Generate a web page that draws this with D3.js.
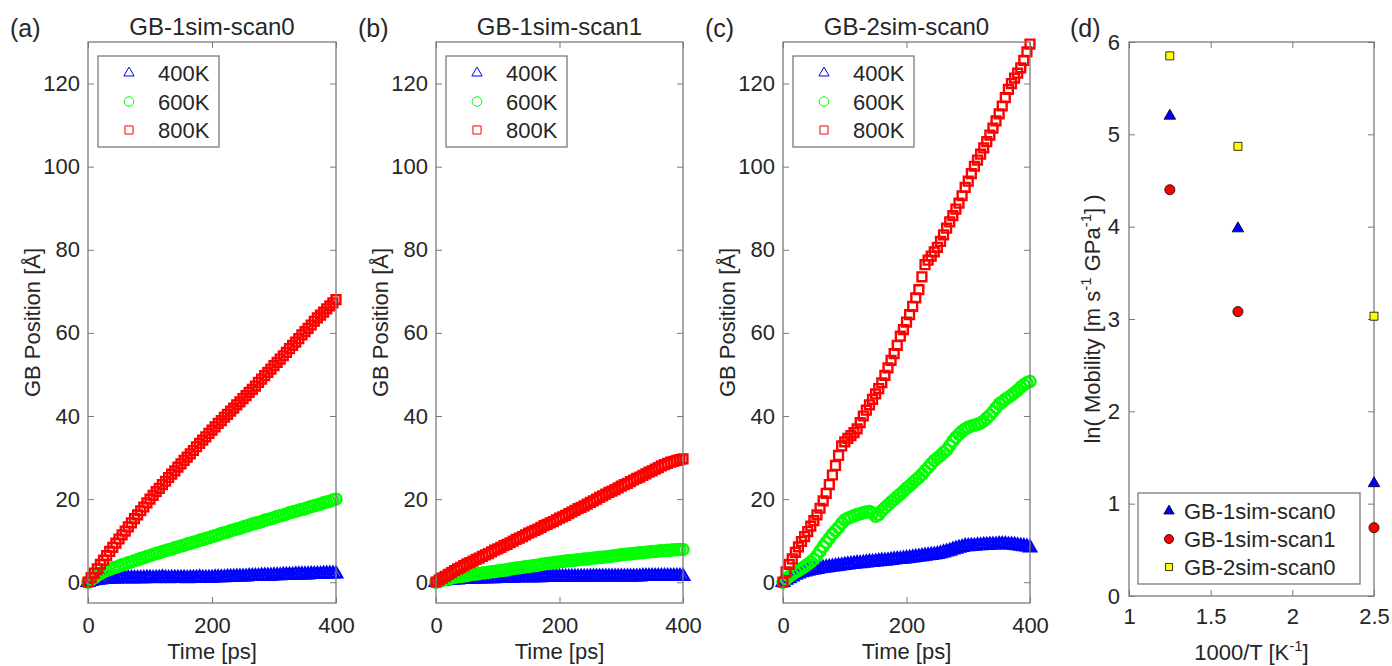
<!DOCTYPE html>
<meta charset="utf-8">
<script src="https://d3js.org/d3.v7.min.js"></script>
<style>
  body { margin: 0; background: #fff; }
  text { font-family: "Liberation Sans", Arial, Helvetica, sans-serif; fill: #262626; }
</style>
<body>
<div id="chart"></div>
<script>

// sample times [ps]
const time = [
  0, 5, 10, 15, 20, 25, 30, 35, 40, 45,
  50, 55, 60, 65, 70, 75, 80, 85, 90, 95,
  100, 105, 110, 115, 120, 125, 130, 135, 140, 145,
  150, 155, 160, 165, 170, 175, 180, 185, 190, 195,
  200, 205, 210, 215, 220, 225, 230, 235, 240, 245,
  250, 255, 260, 265, 270, 275, 280, 285, 290, 295,
  300, 305, 310, 315, 320, 325, 330, 335, 340, 345,
  350, 355, 360, 365, 370, 375, 380, 385, 390, 395,
  400];

// (a) GB-1sim-scan0, GB position [A]
const a400 = [
  0, 0.2, 0.4, 0.5, 0.6, 0.7, 0.7, 0.8, 0.8, 0.8,
  0.9, 0.9, 0.9, 0.9, 0.9, 0.9, 0.9, 0.9, 0.9, 1.0,
  1.0, 0.9, 1.0, 1.0, 1.1, 1.0, 0.9, 1.0, 1.0, 1.0,
  1.0, 1.0, 0.9, 1.0, 1.0, 1.0, 1.1, 1.0, 1.0, 1.0,
  1.0, 1.1, 1.1, 1.1, 1.1, 1.2, 1.2, 1.2, 1.3, 1.3,
  1.3, 1.3, 1.4, 1.4, 1.4, 1.4, 1.5, 1.5, 1.5, 1.5,
  1.6, 1.6, 1.6, 1.7, 1.7, 1.7, 1.7, 1.8, 1.8, 1.8,
  1.8, 1.8, 1.9, 1.9, 1.9, 1.9, 2.0, 2.0, 2.0, 2.0,
  2.0];
const a600 = [
  0, 0.6, 1.1, 1.6, 2.1, 2.5, 2.8, 3.1, 3.4, 3.6,
  3.9, 4.2, 4.4, 4.7, 4.9, 5.2, 5.4, 5.7, 5.9, 6.2,
  6.4, 6.7, 6.9, 7.1, 7.4, 7.6, 7.8, 8.0, 8.3, 8.5,
  8.7, 8.9, 9.2, 9.4, 9.6, 9.8, 10.1, 10.3, 10.5, 10.7,
  11.0, 11.2, 11.4, 11.7, 11.9, 12.1, 12.4, 12.6, 12.8, 13.0,
  13.3, 13.5, 13.7, 14.0, 14.2, 14.4, 14.6, 14.9, 15.1, 15.3,
  15.5, 15.8, 16.0, 16.2, 16.4, 16.7, 16.9, 17.1, 17.3, 17.5,
  17.7, 18.0, 18.2, 18.4, 18.6, 18.8, 19.1, 19.3, 19.5, 19.8,
  20.0];
const a800 = [
  0, 1.1, 2.2, 3.2, 4.3, 5.3, 6.4, 7.4, 8.4, 9.4,
  10.4, 11.4, 12.3, 13.3, 14.3, 15.3, 16.2, 17.2, 18.1, 19.1,
  20.0, 20.9, 21.8, 22.6, 23.5, 24.3, 25.2, 26.0, 26.8, 27.7,
  28.5, 29.3, 30.1, 30.9, 31.7, 32.6, 33.4, 34.2, 35.0, 35.8,
  36.6, 37.4, 38.2, 38.9, 39.7, 40.4, 41.2, 41.9, 42.7, 43.4,
  44.2, 44.9, 45.7, 46.4, 47.2, 48.1, 48.9, 49.7, 50.5, 51.3,
  52.1, 52.9, 53.7, 54.5, 55.3, 56.2, 57.0, 57.8, 58.6, 59.5,
  60.3, 61.1, 61.9, 62.8, 63.6, 64.3, 65.0, 65.8, 66.5, 67.2,
  68.0];

// (b) GB-1sim-scan1
const b400 = [
  0, 0.2, 0.3, 0.4, 0.5, 0.5, 0.6, 0.6, 0.7, 0.7,
  0.7, 0.8, 0.8, 0.8, 0.8, 0.9, 0.9, 0.9, 0.9, 0.9,
  1.0, 1.0, 1.0, 1.0, 1.0, 1.0, 1.1, 1.1, 1.1, 1.1,
  1.1, 1.1, 1.1, 1.1, 1.1, 1.2, 1.2, 1.2, 1.2, 1.2,
  1.2, 1.2, 1.2, 1.2, 1.2, 1.2, 1.2, 1.2, 1.2, 1.2,
  1.3, 1.3, 1.3, 1.3, 1.3, 1.3, 1.3, 1.3, 1.3, 1.3,
  1.3, 1.3, 1.3, 1.3, 1.3, 1.3, 1.3, 1.4, 1.4, 1.4,
  1.4, 1.4, 1.4, 1.4, 1.4, 1.4, 1.4, 1.4, 1.4, 1.4,
  1.4];
const b600 = [
  0, 0.3, 0.5, 0.7, 0.9, 1.0, 1.2, 1.3, 1.4, 1.5,
  1.6, 1.8, 1.9, 2.0, 2.1, 2.2, 2.3, 2.4, 2.5, 2.6,
  2.7, 2.8, 2.9, 3.0, 3.2, 3.3, 3.4, 3.5, 3.6, 3.7,
  3.8, 3.9, 4.0, 4.1, 4.3, 4.4, 4.5, 4.6, 4.7, 4.8,
  4.9, 5.0, 5.1, 5.2, 5.2, 5.3, 5.4, 5.5, 5.6, 5.6,
  5.7, 5.8, 5.9, 6.0, 6.0, 6.1, 6.2, 6.3, 6.4, 6.5,
  6.6, 6.7, 6.8, 6.8, 6.9, 7.0, 7.1, 7.1, 7.2, 7.3,
  7.4, 7.4, 7.5, 7.6, 7.6, 7.7, 7.7, 7.8, 7.8, 7.9,
  7.9];
const b800 = [
  0, 0.5, 1.0, 1.4, 1.9, 2.3, 2.8, 3.2, 3.6, 4.0,
  4.4, 4.7, 5.1, 5.5, 5.8, 6.2, 6.6, 6.9, 7.3, 7.7,
  8.0, 8.4, 8.8, 9.1, 9.5, 9.9, 10.3, 10.6, 11.0, 11.4,
  11.8, 12.1, 12.5, 12.8, 13.2, 13.6, 13.9, 14.3, 14.6, 15.0,
  15.4, 15.7, 16.1, 16.5, 16.9, 17.3, 17.7, 18.0, 18.4, 18.8,
  19.2, 19.6, 20.0, 20.4, 20.8, 21.2, 21.6, 21.9, 22.3, 22.7,
  23.1, 23.5, 23.8, 24.2, 24.6, 25.0, 25.3, 25.7, 26.1, 26.5,
  26.8, 27.2, 27.6, 28.0, 28.3, 28.6, 28.9, 29.1, 29.3, 29.5,
  29.7];

// (c) GB-2sim-scan0
const c400 = [
  0, 0.5, 0.9, 1.3, 1.7, 2.0, 2.3, 2.5, 2.7, 2.9,
  3.0, 3.1, 3.3, 3.4, 3.5, 3.6, 3.7, 3.8, 3.9, 4.0,
  4.1, 4.2, 4.3, 4.4, 4.5, 4.5, 4.6, 4.7, 4.8, 4.8,
  4.9, 5.0, 5.1, 5.1, 5.2, 5.3, 5.4, 5.5, 5.5, 5.6,
  5.7, 5.8, 5.9, 6.0, 6.1, 6.2, 6.3, 6.4, 6.5, 6.6,
  6.7, 6.9, 7.1, 7.3, 7.5, 7.8, 8.0, 8.2, 8.4, 8.6,
  8.6, 8.7, 8.7, 8.8, 8.8, 8.9, 8.9, 9.0, 9.0, 9.0,
  9.1, 9.1, 9.1, 9.0, 9.0, 8.9, 8.8, 8.7, 8.6, 8.5,
  8.3];
const c600 = [
  0, 0.8, 1.4, 1.9, 2.4, 2.8, 3.3, 3.8, 4.3, 4.9,
  5.5, 6.4, 7.5, 8.6, 9.6, 10.6, 11.6, 12.4, 13.2, 14.2,
  15.0, 15.4, 15.7, 16.0, 16.3, 16.5, 16.7, 16.9, 17.0, 16.6,
  15.9, 16.3, 17.2, 17.9, 18.6, 19.3, 19.9, 20.6, 21.2, 21.9,
  22.6, 23.2, 23.9, 24.6, 25.2, 26.0, 26.8, 27.6, 28.5, 29.3,
  29.9, 30.5, 31.2, 31.8, 32.9, 34.0, 34.9, 35.6, 36.3, 36.9,
  37.3, 37.6, 37.8, 38.0, 38.3, 38.8, 39.5, 40.2, 41.0, 42.0,
  42.9, 43.4, 44.0, 44.5, 45.0, 45.6, 46.2, 46.9, 47.5, 48.0,
  48.3];
const c800 = [
  0, 2.5, 4.3, 5.6, 7.2, 8.5, 9.8, 11.0, 12.2, 13.5,
  14.8, 16.2, 17.8, 19.6, 21.4, 23.5, 25.8, 28.1, 30.5, 32.8,
  33.8, 34.6, 35.3, 36.0, 36.9, 38.4, 40.0, 41.4, 42.7, 44.0,
  45.3, 46.6, 48.0, 49.8, 51.6, 53.4, 55.0, 57.0, 59.2, 60.8,
  62.6, 64.4, 66.4, 68.4, 70.4, 73.5, 76.4, 77.5, 78.5, 79.5,
  80.6, 82.0, 83.6, 85.2, 86.7, 88.2, 89.8, 91.2, 93.0, 95.0,
  96.5, 98.3, 100.1, 101.6, 103.0, 104.5, 106.0, 107.6, 109.3, 111.0,
  112.7, 114.6, 116.6, 118.6, 120.0, 121.3, 122.5, 123.8, 125.6, 127.6,
  129.5];

// (d) Arrhenius data: 1000/T and ln(mobility)
const invT = [1.25, 1.667, 2.5];
const scan0_1sim = [5.2, 3.98, 1.22];
const scan1_1sim = [4.4, 3.08, 0.74];
const scan0_2sim = [5.85, 4.87, 3.03];

const tempLabels = ["400K", "600K", "800K"];
const yTicks = [0, 20, 40, 60, 80, 100, 120];
const xTicks = [0, 200, 400];

const W = 1392, H = 666;
const plotTop = 42, plotBottom = 603;
const boxColor = "#7a7a7a";
const textColor = "#262626";

const svg = d3.select("#chart")
  .append("svg")
  .attr("width", W)
  .attr("height", H);

// marker style per temperature
const tempStyle = [
  {type: d3.symbolTriangle, size: 46, dataSize: 64, color: "#0000ff"},
  {type: d3.symbolCircle, size: 72, dataSize: 96, color: "#00ff00"},
  {type: d3.symbolSquare, size: 66, dataSize: 78, color: "#ff0000"}
];

const panels = [
  {tag: "(a)", title: "GB-1sim-scan0", left: 88, right: 336, series: [a400, a600, a800]},
  {tag: "(b)", title: "GB-1sim-scan1", left: 436, right: 683, series: [b400, b600, b800]},
  {tag: "(c)", title: "GB-2sim-scan0", left: 783, right: 1030, series: [c400, c600, c800]}
];

const y = d3.scaleLinear().domain([-5, 130]).range([plotBottom, plotTop]);

function styleAxis(sel) {
  sel.select(".domain").remove();
  sel.selectAll(".tick line").attr("stroke", boxColor);
  sel.selectAll(".tick text").style("font-size", "22px").attr("fill", textColor);
}

panels.forEach(function(p) {
  const x = d3.scaleLinear().domain([0, 400]).range([p.left, p.right]);
  const g = svg.append("g");

  // axes with inward ticks on all four sides
  g.append("g")
    .attr("transform", `translate(0,${plotBottom})`)
    .call(d3.axisBottom(x).tickValues(xTicks).tickSize(-6).tickPadding(14))
    .call(styleAxis);
  g.append("g")
    .attr("transform", `translate(0,${plotTop})`)
    .call(d3.axisTop(x).tickValues(xTicks).tickSize(-6).tickFormat(""))
    .call(styleAxis);
  g.append("g")
    .attr("transform", `translate(${p.left},0)`)
    .call(d3.axisLeft(y).tickValues(yTicks).tickSize(-6).tickPadding(8))
    .call(styleAxis);
  g.append("g")
    .attr("transform", `translate(${p.right},0)`)
    .call(d3.axisRight(y).tickValues(yTicks).tickSize(-6).tickFormat(""))
    .call(styleAxis);

  // data markers
  p.series.forEach(function(vals, i) {
    const st = tempStyle[i];
    const sym = d3.symbol().type(st.type).size(st.dataSize);
    g.append("g").selectAll("path")
      .data(vals)
      .join("path")
        .attr("d", sym)
        .attr("transform", (d, j) => `translate(${x(time[j])},${y(d)})`)
        .attr("fill", "none")
        .attr("stroke", st.color)
        .attr("stroke-width", 2.4);
  });

  g.append("rect")
    .attr("x", p.left).attr("y", plotTop)
    .attr("width", p.right - p.left).attr("height", plotBottom - plotTop)
    .attr("fill", "none").attr("stroke", boxColor).attr("stroke-width", 1.3);

  // legend
  const lg = g.append("g").attr("transform", `translate(${p.left + 10},56)`);
  lg.append("rect")
    .attr("width", 121).attr("height", 91)
    .attr("fill", "#fff").attr("stroke", boxColor).attr("stroke-width", 1.3);
  tempLabels.forEach(function(lab, i) {
    const st = tempStyle[i];
    const cy = 17 + i * 28.5;
    lg.append("path")
      .attr("d", d3.symbol().type(st.type).size(st.size)())
      .attr("transform", `translate(31,${cy})`)
      .attr("fill", "none").attr("stroke", st.color).attr("stroke-width", 1);
    lg.append("text")
      .attr("x", 60).attr("y", cy + 8)
      .style("font-size", "22px")
      .text(lab);
  });

  // titles and labels
  g.append("text")
    .attr("x", (p.left + p.right) / 2).attr("y", 35)
    .attr("text-anchor", "middle")
    .style("font-size", "24px")
    .text(p.title);
  g.append("text")
    .attr("x", p.left - 78).attr("y", 37)
    .style("font-size", "25px")
    .text(p.tag);
  g.append("text")
    .attr("x", (p.left + p.right) / 2).attr("y", 659)
    .attr("text-anchor", "middle")
    .style("font-size", "22px")
    .text("Time [ps]");
  g.append("text")
    .attr("transform", `translate(${p.left - 48},${(plotTop + plotBottom) / 2}) rotate(-90)`)
    .attr("text-anchor", "middle")
    .style("font-size", "22px")
    .text("GB Position [Å]");
});

// ---- panel (d)
const dLeft = 1129, dRight = 1374, dBottom = 596;
const xd = d3.scaleLinear().domain([1, 2.5]).range([dLeft, dRight]);
const yd = d3.scaleLinear().domain([0, 6]).range([dBottom, plotTop]);
const gd = svg.append("g");

gd.append("g")
  .attr("transform", `translate(0,${dBottom})`)
  .call(d3.axisBottom(xd).tickValues([1, 1.5, 2, 2.5]).tickSize(-6).tickPadding(12).tickFormat(d => String(d)))
  .call(styleAxis);
gd.append("g")
  .attr("transform", `translate(0,${plotTop})`)
  .call(d3.axisTop(xd).tickValues([1, 1.5, 2, 2.5]).tickSize(-6).tickFormat(""))
  .call(styleAxis);
gd.append("g")
  .attr("transform", `translate(${dLeft},0)`)
  .call(d3.axisLeft(yd).ticks(6).tickSize(-6).tickPadding(9))
  .call(styleAxis);
gd.append("g")
  .attr("transform", `translate(${dRight},0)`)
  .call(d3.axisRight(yd).ticks(6).tickSize(-6).tickFormat(""))
  .call(styleAxis);
gd.append("rect")
  .attr("x", dLeft).attr("y", plotTop)
  .attr("width", dRight - dLeft).attr("height", dBottom - plotTop)
  .attr("fill", "none").attr("stroke", boxColor).attr("stroke-width", 1.3);

const dSeries = [
  {name: "GB-1sim-scan0", vals: scan0_1sim, type: d3.symbolTriangle, size: 58, color: "#0000ff"},
  {name: "GB-1sim-scan1", vals: scan1_1sim, type: d3.symbolCircle, size: 80, color: "#ff0000"},
  {name: "GB-2sim-scan0", vals: scan0_2sim, type: d3.symbolSquare, size: 64, color: "#ffff00"}
];

dSeries.forEach(function(s) {
  gd.append("g").selectAll("path")
    .data(s.vals)
    .join("path")
      .attr("d", d3.symbol().type(s.type).size(s.size))
      .attr("transform", (d, i) => `translate(${xd(invT[i])},${yd(d)})`)
      .attr("fill", s.color)
      .attr("stroke", "#000")
      .attr("stroke-width", 0.8);
});

// legend (d)
const lgd = gd.append("g").attr("transform", "translate(1138,493)");
lgd.append("rect")
  .attr("width", 222).attr("height", 91)
  .attr("fill", "#fff").attr("stroke", boxColor).attr("stroke-width", 1.3);
dSeries.forEach(function(s, i) {
  const cy = 18 + i * 28;
  lgd.append("path")
    .attr("d", d3.symbol().type(s.type).size(s.size * 0.8)())
    .attr("transform", `translate(31,${cy})`)
    .attr("fill", s.color).attr("stroke", "#000").attr("stroke-width", 0.8);
  lgd.append("text")
    .attr("x", 46).attr("y", cy + 8)
    .style("font-size", "22px")
    .text(s.name);
});

gd.append("text")
  .attr("x", 1070).attr("y", 37)
  .style("font-size", "25px")
  .text("(d)");

// x label with superscript
const xl = gd.append("text")
  .attr("x", (dLeft + dRight) / 2).attr("y", 660)
  .attr("text-anchor", "middle")
  .style("font-size", "22px");
xl.append("tspan").text("1000/T [K");
xl.append("tspan").attr("dy", -9).style("font-size", "15px").text("-1");
xl.append("tspan").attr("dy", 9).text("]");

// y label with superscripts
const yl = gd.append("text")
  .attr("transform", `translate(1100,${(plotTop + dBottom) / 2}) rotate(-90)`)
  .attr("text-anchor", "middle")
  .style("font-size", "22px");
yl.append("tspan").text("ln( Mobility [m s");
yl.append("tspan").attr("dy", -9).style("font-size", "15px").text("-1");
yl.append("tspan").attr("dy", 9).text(" GPa");
yl.append("tspan").attr("dy", -9).style("font-size", "15px").text("-1");
yl.append("tspan").attr("dy", 9).text("] )");

</script>
</body>
